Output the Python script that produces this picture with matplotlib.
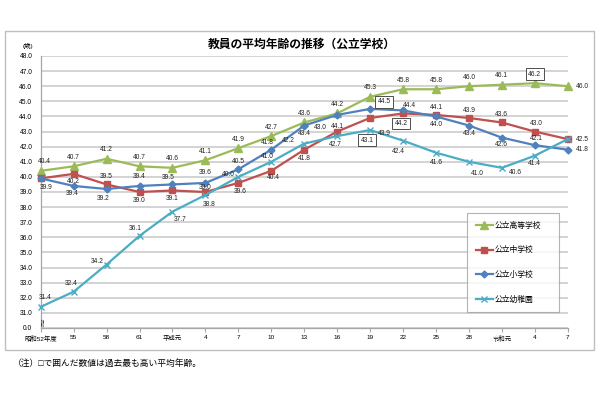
import matplotlib
matplotlib.use('Agg')
import matplotlib.pyplot as plt
from matplotlib.patches import Rectangle

plt.rcParams['font.family'] = ['Liberation Sans', 'Noto Sans CJK JP', 'DejaVu Sans']

# ---------------- data ----------------
years = ['昭和52年度', '55', '58', '61', '平成元', '4', '7', '10', '13', '16',
         '19', '22', '25', '28', '令和元', '4', '7']
high_school = [40.4, 40.7, 41.2, 40.7, 40.6, 41.1, 41.9, 42.7, 43.6, 44.2,
               45.3, 45.8, 45.8, 46.0, 46.1, 46.2, 46.0]
junior_high = [39.9, 40.2, 39.5, 39.0, 39.1, 39.0, 39.6, 40.4, 41.8, 43.0,
               43.9, 44.2, 44.1, 43.9, 43.6, 43.0, 42.5]
elementary = [39.9, 39.4, 39.2, 39.4, 39.5, 39.6, 40.5, 41.8, 43.4, 44.1,
              44.5, 44.4, 44.0, 43.4, 42.6, 42.1, 41.8]
kindergarten = [31.4, 32.4, 34.2, 36.1, 37.7, 38.8, 40.0, 41.0, 42.2, 42.7,
                43.1, 42.4, 41.6, 41.0, 40.6, 41.4, 42.5]
series_names = ['公立高等学校', '公立中学校', '公立小学校', '公立幼稚園']
# index of the record-high value (boxed label) per series
record_index = [15, 11, 10, 10]

# ---------------- style ----------------
colors = ['#9BBB59', '#C0504D', '#4F81BD', '#4BACC6']
markers = ['^', 's', 'D', 'x']
msizes = [5.5, 5, 3.5, 4.5]
# label offsets in pixels (dx, dy up); None = no label
label_offsets = [
    [(4, 9)] + [(0, 9)] * 15 + [(15, 0)],
    [None, (0, -8), (0, 8), (0, -9), (0, -8), (0, 4), (2, -9), (2, -7), (0, -9),
     (-17, 4), (14, -16), (-2, -10), (0, 7), (0, 7), (0, 8), (2, 8), (15, 0)],
    [(5, -9), (-1, -8), (-3, -10), (0, 9), (-4, 7), (0, 10), (0, 8), (-4, 7),
     (0, -8), (0, -12), (14, 7), (6, 5), (0, -8), (0, -8), (0, -7), (2, 7), (15, 0)],
    [(5, 9), (-2, 8), (-9, 3), (-4, 7), (8, -8), (4, -9), (-10, 2), (-4, 5),
     (-16, 3), (-2, -8), (-3, -10), (-5, -11), (0, -10), (8, -12), (14, -5),
     (0, -8), None],
]

fig = plt.figure(figsize=(6, 4), dpi=100)
fig.patches.append(Rectangle((5 / 600, 50 / 400), 589 / 600, 319 / 400,
                             transform=fig.transFigure, fill=False,
                             ec='#bfbfbf', lw=1.0))

ax = fig.add_axes([40.7 / 600, 72 / 400, 527 / 600, 272 / 400])
ax.set_xlim(0, len(years) - 1)
ax.set_ylim(30, 48)

x = list(range(len(years)))
all_series = [high_school, junior_high, elementary, kindergarten]
handles = []
for k, vals in enumerate(all_series):
    h, = ax.plot(x, vals, color=colors[k], marker=markers[k], ms=msizes[k],
                 mew=1.0, lw=1.6, label=series_names[k], zorder=3 + k * 0.1,
                 clip_on=False)
    handles.append(h)
    for i, v in enumerate(vals):
        off = label_offsets[k][i]
        if off is None:
            continue
        kw = {}
        if i == record_index[k]:
            kw['bbox'] = dict(boxstyle='square,pad=0.35', fc='white',
                              ec='#333333', lw=0.6)
        ax.annotate(f'{v:.1f}', (i, v), xytext=off, textcoords='offset pixels',
                    ha='center', va='center', fontsize=4.8, color='#222222',
                    zorder=6, **kw)

# axes styling
ax.set_xticks(x)
ax.set_xticklabels(years, fontsize=4.6)
yt = [30] + list(range(31, 49))
ax.set_yticks(yt)
ax.set_yticklabels(['0.0'] + [f'{v:.1f}' for v in range(31, 49)], fontsize=4.8)
ax.tick_params(axis='x', length=3, color='#a6a6a6', pad=2)
ax.tick_params(axis='y', length=0, pad=6)
ax.yaxis.grid(True, color='#c8c8c8', lw=1.1)
ax.set_axisbelow(True)
for s in ['top', 'right']:
    ax.spines[s].set_visible(False)
for s in ['left', 'bottom']:
    ax.spines[s].set_color('#a6a6a6')
    ax.spines[s].set_linewidth(0.9)

# axis break mark
ax.text(0.06, 30.45, '≈', rotation=90, fontsize=8, ha='center', va='center',
        color='#333333', family='DejaVu Sans')

leg = ax.legend(handles=handles, loc='upper left',
                bbox_to_anchor=(467 / 600, 1 - 307 / 400, 92 / 600, 94 / 400),
                bbox_transform=fig.transFigure, mode='expand',
                fontsize=5.6, frameon=True, fancybox=False, edgecolor='#a0a0a0',
                labelspacing=2.15, handlelength=2.2, handletextpad=0.3,
                borderpad=1.1, borderaxespad=0, numpoints=1)
leg.get_frame().set_linewidth(0.8)
leg.set_zorder(10)

fig.text(302 / 600, 1 - 45 / 400, '教員の平均年齢の推移（公立学校）',
         ha='center', va='center', fontsize=8.5, fontweight='bold')
fig.text(23 / 600, 1 - 46 / 400, '(歳)', ha='left', va='center', fontsize=4.6)
fig.text(13 / 600, 1 - 363 / 400, '（注）□で囲んだ数値は過去最も高い平均年齢。',
         ha='left', va='center', fontsize=6.3)

fig.savefig('out.png', dpi=100)
